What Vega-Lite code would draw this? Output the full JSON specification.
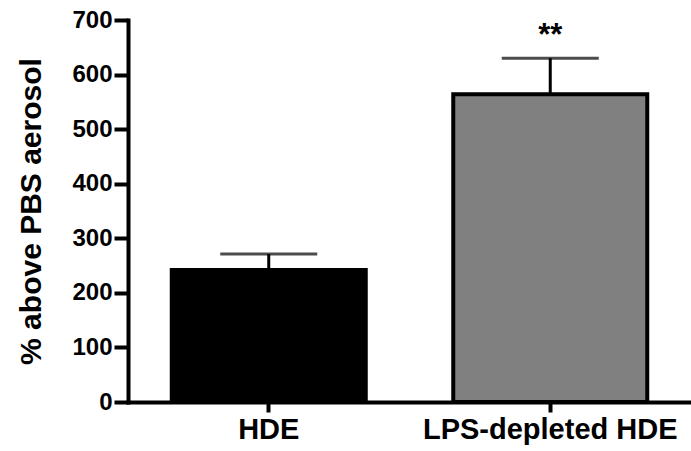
{
  "$schema": "https://vega.github.io/schema/vega-lite/v6.json",
  "width": 563,
  "height": 382,
  "autosize": "none",
  "padding": {"left": 128, "top": 20, "right": 0, "bottom": 49},
  "background": "white",
  "config": {"view": {"stroke": null}, "font": "Liberation Sans"},
  "data": {"values": [
    {"group": "HDE", "value": 242, "errhigh": 271, "sig": ""},
    {"group": "LPS-depleted HDE", "value": 564, "errhigh": 630, "sig": "**"}
  ]},
  "encoding": {
    "x": {"field": "group", "type": "nominal", "sort": null,
      "scale": {"paddingInner": 0, "paddingOuter": 0},
      "axis": {"title": null, "labelAngle": 0, "labelLimit": 0, "labelFont": "Liberation Sans", "labelFontWeight": "bold", "labelFontSize": 29, "labelColor": "black", "labelPadding": 3, "tickSize": 10, "tickWidth": 4, "tickColor": "black", "domainWidth": 4, "domainColor": "black", "domainCap": "square"}}
  },
  "layer": [
    {"mark": {"type": "bar", "size": 194, "stroke": "black", "strokeWidth": 4},
     "encoding": {
       "y": {"field": "value", "type": "quantitative",
         "scale": {"domain": [0, 700], "nice": false},
         "axis": {"title": "% above PBS aerosol", "values": [0,100,200,300,400,500,600,700], "grid": false,
           "titleFont": "Liberation Sans", "titleFontWeight": "bold", "titleFontSize": 30, "titleColor": "black", "titlePadding": 25,
           "labelFont": "Liberation Sans", "labelFontWeight": "bold", "labelFontSize": 24, "labelColor": "black", "labelPadding": 2,
           "tickSize": 14, "tickWidth": 4, "tickColor": "black", "domainWidth": 4, "domainColor": "black", "domainCap": "square"}},
       "color": {"field": "group", "type": "nominal", "scale": {"range": ["#000000", "#808080"]}, "legend": null}
     }},
    {"mark": {"type": "rule", "color": "black", "strokeWidth": 3},
     "encoding": {"y": {"field": "value", "type": "quantitative"}, "y2": {"field": "errhigh"}}},
    {"mark": {"type": "tick", "color": "black", "orient": "horizontal", "size": 97, "thickness": 3},
     "encoding": {"y": {"field": "errhigh", "type": "quantitative"}}},
    {"mark": {"type": "text", "font": "Liberation Sans", "fontWeight": "bold", "fontSize": 31, "color": "black", "baseline": "alphabetic", "dy": -13},
     "encoding": {"y": {"field": "errhigh", "type": "quantitative"}, "text": {"field": "sig"}}}
  ]
}
